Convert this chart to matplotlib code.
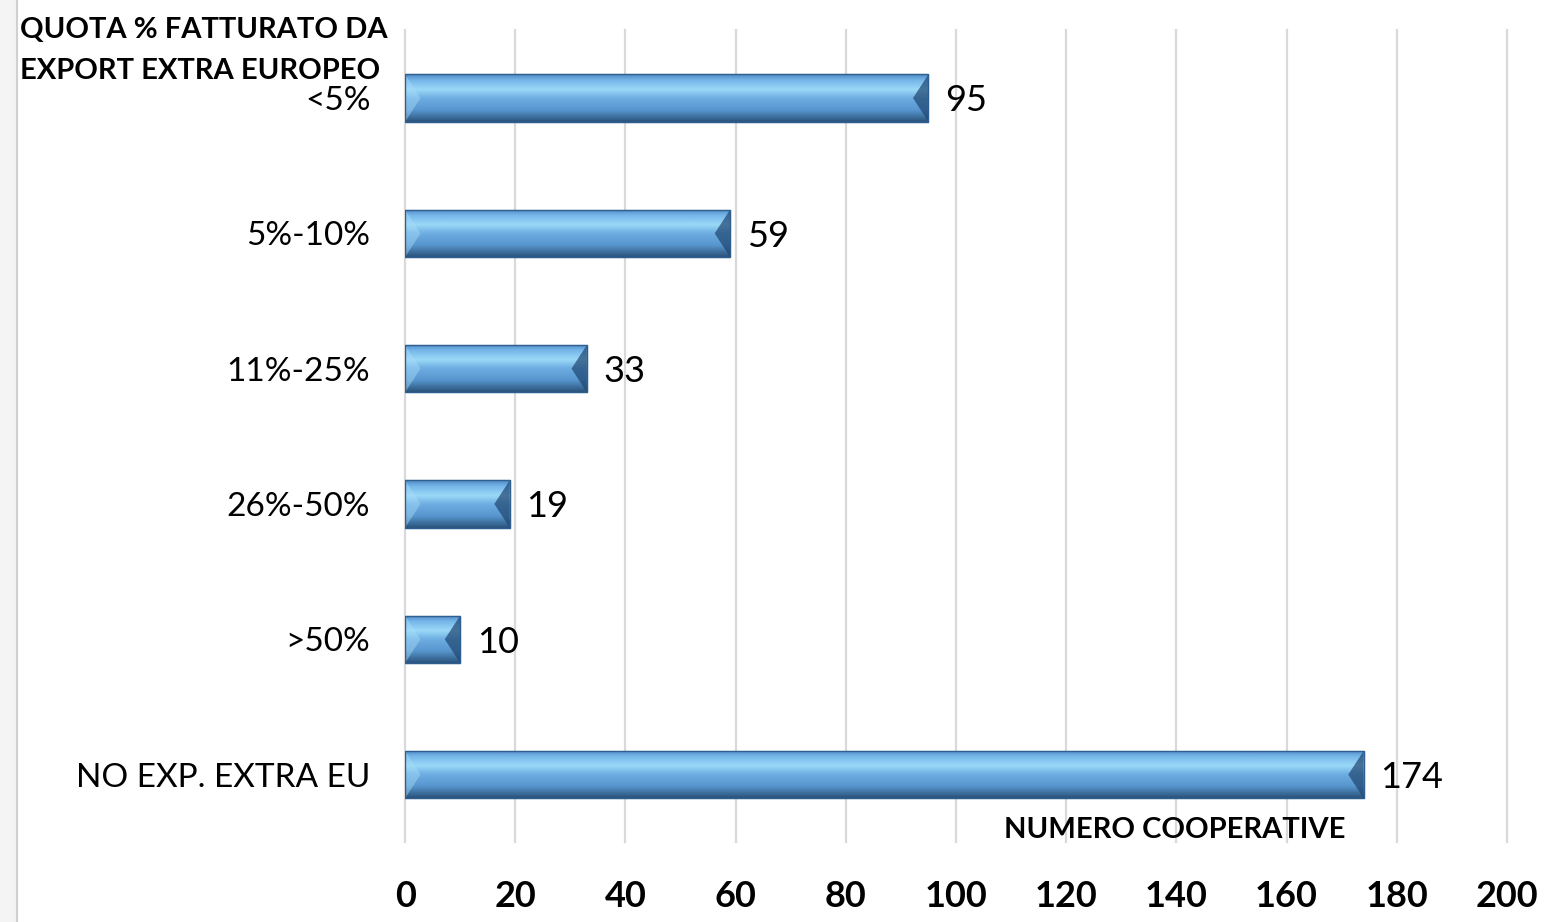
import numpy as np
import matplotlib
matplotlib.use("Agg")
import matplotlib.pyplot as plt
from matplotlib.colors import LinearSegmentedColormap
from matplotlib.patches import Polygon, Rectangle
from matplotlib.lines import Line2D

# data: cooperatives by share of extra-EU export turnover
categories = ["<5%", "5%-10%", "11%-25%", "26%-50%", ">50%", "NO EXP. EXTRA EU"]
counts = [95, 59, 33, 19, 10, 174]
xticks = [0, 20, 40, 60, 80, 100, 120, 140, 160, 180, 200]

plt.rcParams['font.family'] = ['Lato', 'DejaVu Sans']

fig = plt.figure(figsize=(15.64, 9.22), dpi=100)
fig.patch.set_facecolor('white')
ax = fig.add_axes([0.259, 0.0865, 0.7045, 0.8805])

# light strip + border on the left edge
fig.patches.append(Rectangle((0, 0), 0.011, 1, transform=fig.transFigure,
                             facecolor='#f4f4f4', edgecolor='none', zorder=0))
fig.lines.append(Line2D([0.011, 0.011], [0, 1], transform=fig.transFigure,
                        color='#d0d0d0', lw=1.5))

y = np.arange(len(categories))
h = 0.35
bars = ax.barh(y, counts, height=h, color='#5b9bd5', edgecolor='#2f5f8f',
               linewidth=0.8, zorder=3)

# vertical shading for the 3d look (top -> bottom)
shade = LinearSegmentedColormap.from_list('shade', [
    (0.0, '#4c88c2'), (0.12, '#74b4e8'), (0.32, '#9bd9f8'), (0.5, '#6eaee2'),
    (0.75, '#5896cf'), (0.9, '#3d6e9c'), (1.0, '#2a527c')])
grad = np.linspace(0, 1, 200).reshape(-1, 1)
bw = 2.8  # bevel depth in data units
for b, yi, v in zip(bars, y, counts):
    y0, y1 = yi - h / 2, yi + h / 2
    im = ax.imshow(grad, cmap=shade, aspect='auto', extent=(0, v, y1, y0),
                   origin='upper', zorder=3.5, interpolation='bicubic')
    im.set_clip_path(b)
    d = min(bw, v / 3)
    ax.add_patch(Polygon([(0, y0), (d, yi), (0, y1)], closed=True,
                         facecolor='#a8dcf8', alpha=0.45, edgecolor='none', zorder=4))
    ax.add_patch(Polygon([(v, y0), (v - d, yi), (v, y1)], closed=True,
                         facecolor='#1f4670', alpha=0.7, edgecolor='none', zorder=4))
    ax.add_patch(Rectangle((0, y0), v, h, facecolor='none', edgecolor='#2f5f8f',
                           lw=1.0, zorder=5))
    ax.annotate(str(v), (v, yi), xytext=(12, -2), textcoords='offset points',
                ha='left', va='center', fontsize=26, color='black', zorder=6)

ax.set_xlim(0, 200)
ax.set_ylim(len(categories) - 0.5, -0.5)
ax.set_xticks(xticks)
ax.set_xticklabels([str(t) for t in xticks], fontsize=26, fontweight='bold')
ax.set_yticks(y)
ax.set_yticklabels(categories, fontsize=24)
ax.tick_params(axis='x', length=0, pad=27)
ax.tick_params(axis='y', length=0, pad=25)
ax.grid(axis='x', color='#d9d9d9', lw=1.6, zorder=0)
for g in ax.get_xgridlines():
    g.set_clip_on(False)
for s in ax.spines.values():
    s.set_visible(False)

fig.text(0.013, 0.982, "QUOTA % FATTURATO DA\nEXPORT EXTRA EUROPEO", ha='left', va='top',
         fontsize=21, fontweight='bold', linespacing=1.75)
fig.text(0.86, 0.10, "NUMERO COOPERATIVE", ha='right', va='center',
         fontsize=21, fontweight='bold')

fig.savefig("out.png", dpi=100, facecolor='white')
